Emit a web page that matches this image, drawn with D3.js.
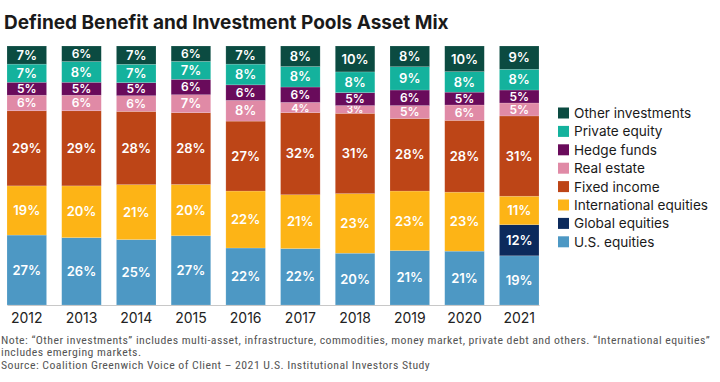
<!DOCTYPE html>
<html>
<head>
<meta charset="utf-8">
<script src="https://cdn.jsdelivr.net/npm/d3@7"></script>
<style>
  body { margin: 0; background: #fff; }
  svg { display: block; }
</style>
</head>
<body>
<div id="chart"></div>
<script>
// categories and series (bottom to top of each stack)
const years = ["2012", "2013", "2014", "2015", "2016", "2017", "2018", "2019", "2020", "2021"];
const seriesNames = ["U.S. equities", "Global equities", "International equities", "Fixed income",
    "Real estate", "Hedge funds", "Private equity", "Other investments"];
const usEquities      = [27, 26, 25, 27, 22, 22, 20, 21, 21, 19];
const globalEquities  = [0, 0, 0, 0, 0, 0, 0, 0, 0, 12];
const intlEquities    = [19, 20, 21, 20, 22, 21, 23, 23, 23, 11];
const fixedIncome     = [29, 29, 28, 28, 27, 32, 31, 28, 28, 31];
const realEstate      = [6, 6, 6, 7, 8, 4, 3, 5, 6, 5];
const hedgeFunds      = [5, 5, 5, 6, 6, 6, 5, 6, 5, 5];
const privateEquity   = [7, 8, 7, 7, 8, 8, 8, 9, 8, 8];
const otherInvest     = [7, 6, 7, 6, 7, 8, 10, 8, 10, 9];
const colors = ["#4d98c4", "#0c2a5c", "#fdb416", "#bd4517", "#e08aa6", "#690b5b", "#14b29d", "#0b4b41"];

const seriesValues = [usEquities, globalEquities, intlEquities, fixedIncome,
    realEstate, hedgeFunds, privateEquity, otherInvest];

const rows = years.map((y, i) => {
    const r = { year: y };
    seriesNames.forEach((s, j) => { r[s] = seriesValues[j][i]; });
    return r;
});

const W = 720, H = 382;
const svg = d3.select("#chart").append("svg")
    .attr("width", W)
    .attr("height", H)
    .attr("viewBox", [0, 0, W, H]);

// title
svg.append("text")
    .attr("x", 4)
    .attr("y", 29)
    .attr("font-family", "Inter, 'Open Sans', sans-serif")
    .attr("font-weight", 700)
    .attr("font-size", 19)
    .attr("fill", "#1a1a1a")
    .text("Defined Benefit and Investment Pools Asset Mix");

const x = d3.scaleBand()
    .domain(years)
    .range([7, 539])
    .paddingInner(0.277)
    .paddingOuter(0);

const y = d3.scaleLinear()
    .domain([0, 1])
    .range([305, 46]);

const stack = d3.stack()
    .keys(seriesNames)
    .offset(d3.stackOffsetExpand);
const stacked = stack(rows);

const groups = svg.append("g")
    .selectAll("g")
    .data(stacked)
    .join("g")
    .attr("fill", (d, i) => colors[i]);

groups.selectAll("rect")
    .data(d => d)
    .join("rect")
    .attr("x", d => x(d.data.year))
    .attr("y", d => y(d[1]))
    .attr("width", x.bandwidth())
    .attr("height", d => Math.max(0, y(d[0]) - y(d[1])))
    .attr("stroke", "#ffffff")
    .attr("stroke-opacity", 0.25)
    .attr("stroke-width", 0.6);

// segment labels (smaller ones shrink a bit so they stay inside)
function labelSize(v) {
    if (v < 4) return 10;
    if (v < 5) return 11;
    if (v < 7) return 12;
    return 13;
}
groups.each(function (s) {
    d3.select(this).selectAll("text")
        .data(s.filter(d => d.data[s.key] > 0))
        .join("text")
        .attr("x", d => x(d.data.year) + x.bandwidth() / 2)
        .attr("y", d => (y(d[0]) + y(d[1])) / 2)
        .attr("dy", "0.36em")
        .attr("text-anchor", "middle")
        .attr("font-family", "Inter, 'Open Sans', sans-serif")
        .attr("font-weight", 600)
        .attr("font-size", d => labelSize(d.data[s.key]))
        .attr("fill", "#fff")
        .text(d => d.data[s.key] + "%");
});

// x axis
const xAxis = svg.append("g")
    .attr("transform", "translate(0,305)")
    .call(d3.axisBottom(x).tickSize(0).tickPadding(8));
xAxis.select(".domain").attr("stroke", "#c8c8c8").attr("stroke-width", 1.2);
xAxis.selectAll("text")
    .attr("font-family", "Inter, 'Open Sans', sans-serif")
    .attr("font-size", 14)
    .attr("fill", "#222");

// legend (top to bottom)
const legendItems = seriesNames.map((s, i) => ({ name: s, color: colors[i] })).reverse();
const legend = svg.append("g")
    .selectAll("g")
    .data(legendItems)
    .join("g")
    .attr("transform", (d, i) => `translate(558, ${113 + i * 18.4})`);
legend.append("rect")
    .attr("x", 0)
    .attr("y", -5.5)
    .attr("width", 11)
    .attr("height", 11)
    .attr("fill", d => d.color);
legend.append("text")
    .attr("x", 16)
    .attr("dy", "0.36em")
    .attr("font-family", "Inter, 'Open Sans', sans-serif")
    .attr("font-size", 13.6)
    .attr("fill", "#1a1a1a")
    .text(d => d.name);

// notes
const notes = [
    "Note: \u201cOther investments\u201d includes multi-asset, infrastructure, commodities, money market, private debt and others. \u201cInternational equities\u201d",
    "includes emerging markets.",
    "Source: Coalition Greenwich Voice of Client \u2013 2021 U.S. Institutional Investors Study"
];
svg.append("g")
    .selectAll("text")
    .data(notes)
    .join("text")
    .attr("x", 1)
    .attr("y", (d, i) => 343.5 + i * 12.8)
    .attr("font-family", "'Liberation Sans Narrow', 'Roboto Condensed', sans-serif")
    .attr("font-size", 11.8)
    .attr("letter-spacing", 0.45)
    .attr("fill", "#555")
    .text(d => d);
</script>
</body>
</html>
